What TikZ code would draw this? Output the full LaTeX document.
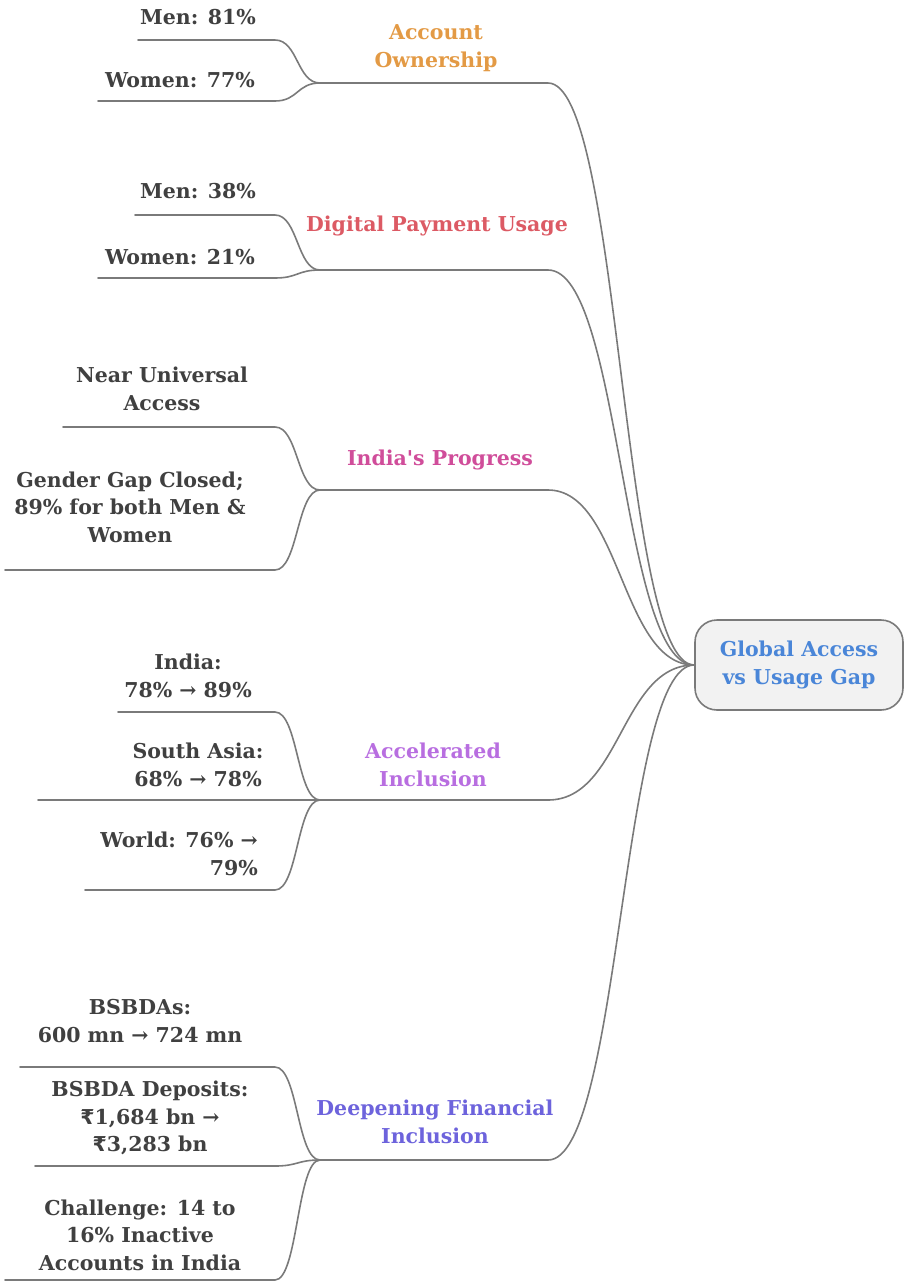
\documentclass[tikz,border=0pt]{standalone}
\usepackage{fontspec}
\setmainfont{DejaVu Serif}
\newfontfamily\rupeefont{DejaVu Sans}
\newcommand{\Rs}{{\rupeefont ₹}}
\newcommand{\straightapos}{{\XeTeXglyph\XeTeXcharglyph"27\relax}}
\definecolor{linegray}{HTML}{7A7A7A}
\definecolor{txtgray}{HTML}{404040}
\definecolor{cOrange}{HTML}{E39A45}
\definecolor{cRed}{HTML}{DC5A64}
\definecolor{cPink}{HTML}{D04D9A}
\definecolor{cPurple}{HTML}{B86EE0}
\definecolor{cViolet}{HTML}{6D63DC}
\definecolor{cBlue}{HTML}{4A86D8}
\tikzset{
  leaf/.style={font=\fontsize{20.5}{27.5}\selectfont\bfseries, text=txtgray, align=center, inner sep=0pt},
  branchlbl/.style={font=\fontsize{20.5}{27.5}\selectfont\bfseries, align=center, inner sep=0pt},
  conn/.style={draw=linegray, line width=1.6pt, line cap=round},
  rootbox/.style={draw=linegray, line width=1.6pt, fill=gray!10, rounded corners=22pt,
    minimum width=208pt, minimum height=90pt, text=cBlue, align=center,
    font=\fontsize{20.5}{27.5}\selectfont\bfseries}
}
\begin{document}
\begin{tikzpicture}[x=1pt,y=-1pt]
\useasboundingbox (0,0) rectangle (904,1285);
% root
\node[rootbox] (root) at (799,665) {Global Access\\vs Usage Gap};

% ---------- Account Ownership ----------
\coordinate (aoJ) at (320,83);
\coordinate (aoR) at (548,83);
\node[branchlbl, text=cOrange] (aoT) at (436,48) {Account\\Ownership};
\coordinate (m81L) at (138,40); \coordinate (m81R) at (275,40);
\node[leaf] (m81T) at (198,17) {Men: 81\%};
\coordinate (w77L) at (98,101); \coordinate (w77R) at (275,101);
\node[leaf] (w77T) at (180,80) {Women: 77\%};
\draw[conn] (m81L) -- (m81R) .. controls +(23,0) and +(-23,0) .. (aoJ);
\draw[conn] (w77L) -- (w77R) .. controls +(23,0) and +(-23,0) .. (aoJ);
\draw[conn] (aoJ) -- (aoR) .. controls +(73,0) and +(-73,0) .. (root.west);

% ---------- Digital Payment Usage ----------
\coordinate (dpJ) at (320,270);
\coordinate (dpR) at (548,270);
\node[branchlbl, text=cRed] (dpT) at (437,226) {Digital Payment Usage};
\coordinate (m38L) at (135,215); \coordinate (m38R) at (275,215);
\node[leaf] (m38T) at (198,191) {Men: 38\%};
\coordinate (w21L) at (98,278); \coordinate (w21R) at (275,278);
\node[leaf] (w21T) at (180,257) {Women: 21\%};
\draw[conn] (m38L) -- (m38R) .. controls +(23,0) and +(-23,0) .. (dpJ);
\draw[conn] (w21L) -- (w21R) .. controls +(23,0) and +(-23,0) .. (dpJ);
\draw[conn] (dpJ) -- (dpR) .. controls +(73,0) and +(-73,0) .. (root.west);

% ---------- India's Progress ----------
\coordinate (ipJ) at (320,490);
\coordinate (ipR) at (548,490);
\node[branchlbl, text=cPink] (ipT) at (440,460) {India\straightapos s Progress};
\coordinate (nuL) at (63,427); \coordinate (nuR) at (275,427);
\node[leaf] (nuT) at (162,389) {Near Universal\\Access};
\coordinate (ggL) at (5,570); \coordinate (ggR) at (275,570);
\node[leaf] (ggT) at (130,507) {Gender Gap Closed;\\89\% for both Men \&\\Women};
\draw[conn] (nuL) -- (nuR) .. controls +(23,0) and +(-23,0) .. (ipJ);
\draw[conn] (ggL) -- (ggR) .. controls +(23,0) and +(-23,0) .. (ipJ);
\draw[conn] (ipJ) -- (ipR) .. controls +(73,0) and +(-73,0) .. (root.west);

% ---------- Accelerated Inclusion ----------
\coordinate (acJ) at (320,800);
\coordinate (acR) at (548,800);
\node[branchlbl, text=cPurple] (acT) at (433,765) {Accelerated\\Inclusion};
\coordinate (inL) at (118,712); \coordinate (inR) at (275,712);
\node[leaf] (inT) at (188,676) {India:\\78\% → 89\%};
\coordinate (saL) at (38,800);
\node[leaf] (saT) at (198,765) {South Asia:\\68\% → 78\%};
\coordinate (wdL) at (85,890); \coordinate (wdR) at (275,890);
\node[leaf, align=right, anchor=east] (wdT) at (258,854) {World: 76\% →\\79\%};
\draw[conn] (inL) -- (inR) .. controls +(23,0) and +(-23,0) .. (acJ);
\draw[conn] (saL) -- (acJ);
\draw[conn] (wdL) -- (wdR) .. controls +(23,0) and +(-23,0) .. (acJ);
\draw[conn] (acJ) -- (acR) .. controls +(73,0) and +(-73,0) .. (root.west);

% ---------- Deepening Financial Inclusion ----------
\coordinate (dfJ) at (320,1160);
\coordinate (dfR) at (548,1160);
\node[branchlbl, text=cViolet] (dfT) at (435,1122) {Deepening Financial\\Inclusion};
\coordinate (bsL) at (20,1067); \coordinate (bsR) at (275,1067);
\node[leaf] (bsT) at (140,1021) {BSBDAs:\\600 mn → 724 mn};
\coordinate (bdL) at (35,1166); \coordinate (bdR) at (275,1166);
\node[leaf] (bdT) at (150,1118) {BSBDA Deposits:\\\Rs1,684 bn →\\\Rs3,283 bn};
\coordinate (chL) at (5,1280); \coordinate (chR) at (275,1280);
\node[leaf] (chT) at (140,1235) {Challenge: 14 to\\16\% Inactive\\Accounts in India};
\draw[conn] (bsL) -- (bsR) .. controls +(23,0) and +(-23,0) .. (dfJ);
\draw[conn] (bdL) -- (bdR) .. controls +(23,0) and +(-23,0) .. (dfJ);
\draw[conn] (chL) -- (chR) .. controls +(23,0) and +(-23,0) .. (dfJ);
\draw[conn] (dfJ) -- (dfR) .. controls +(73,0) and +(-73,0) .. (root.west);
\end{tikzpicture}
\end{document}
